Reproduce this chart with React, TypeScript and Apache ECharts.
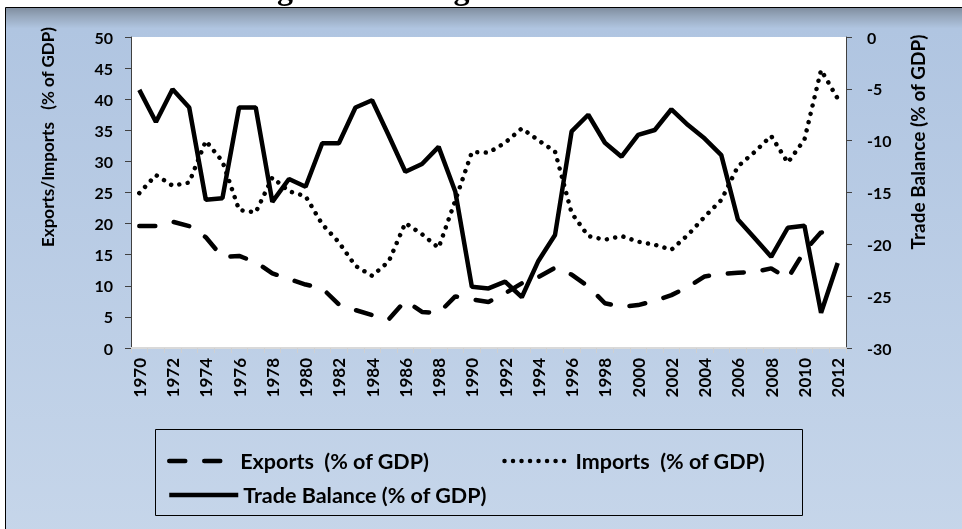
import React, { useEffect, useRef } from "react";
import * as echarts from "echarts";

const years = [
  "1970", "1971", "1972", "1973", "1974", "1975", "1976", "1977", "1978", "1979",
  "1980", "1981", "1982", "1983", "1984", "1985", "1986", "1987", "1988", "1989",
  "1990", "1991", "1992", "1993", "1994", "1995", "1996", "1997", "1998", "1999",
  "2000", "2001", "2002", "2003", "2004", "2005", "2006", "2007", "2008", "2009",
  "2010", "2011", "2012",
];

const exportsPct = [
  19.6, 19.6, 20.3, 19.6, 17.8, 14.6, 14.8, 13.8, 12.0, 11.1,
  10.2, 9.6, 7.0, 6.1, 5.3, 4.6, 7.6, 5.8, 5.6, 8.3,
  7.8, 7.4, 8.8, 10.4, 11.4, 12.9, 11.8, 9.9, 7.2, 6.6,
  6.9, 7.6, 8.5, 9.8, 11.5, 11.9, 12.1, 12.2, 12.8, 11.2,
  15.6, 18.6, 17.9,
];

const importsPct = [
  24.9, 27.8, 26.1, 26.6, 33.3, 30.0, 22.2, 21.8, 27.4, 25.2,
  24.4, 19.9, 17.0, 13.2, 11.6, 13.9, 20.1, 18.3, 16.1, 23.7,
  31.5, 31.4, 33.0, 35.3, 33.4, 31.6, 21.7, 18.0, 17.4, 18.0,
  17.1, 16.6, 15.8, 18.2, 21.1, 23.8, 29.2, 31.5, 34.1, 29.8,
  33.5, 44.7, 40.1,
];

const tradeBalance = [
  -5.1, -8.2, -5.05, -6.8, -15.7, -15.55, -6.8, -6.8, -15.9, -13.7,
  -14.45, -10.25, -10.25, -6.8, -6.1, -9.5, -13.0, -12.25, -10.6, -14.9,
  -24.1, -24.25, -23.6, -25.1, -21.6, -19.1, -9.1, -7.5, -10.2, -11.55,
  -9.45, -8.97, -6.97, -8.5, -9.8, -11.4, -17.6, -19.4, -21.2, -18.4,
  -18.2, -26.6, -21.8,
];

const titleText = "Figure 1: Foreign Trade Performance";
const leftAxisName = "Exports/Imports\u00a0\u00a0 (% of GDP)";
const rightAxisName = "Trade Balance (% of GDP)";
const exportsName = "Exports\u00a0 (% of GDP)";
const importsName = "Imports\u00a0 (% of GDP)";
const balanceName = "Trade Balance (% of GDP)";

const FONT = "Lato";

export default function App() {
  const ref = useRef<HTMLDivElement>(null);

  useEffect(() => {
    if (!ref.current) return;
    const chart = echarts.init(ref.current, null, { renderer: "svg" });

    const labelStyle = {
      color: "#000",
      fontFamily: FONT,
      fontWeight: "bold" as const,
      fontSize: 16,
    };
    const legendText = { ...labelStyle, fontSize: 21.5 };

    const option: any = {
      animation: false,
      graphic: [
        {
          type: "rect",
          z: -100,
          shape: { x: 5.5, y: 7.5, width: 1000, height: 600 },
          style: {
            fill: new echarts.graphic.LinearGradient(0, 0, 0, 1, [
              { offset: 0, color: "#7f8d9f" },
              { offset: 0.015, color: "#97a8bd" },
              { offset: 0.035, color: "#b0c5e1" },
              { offset: 1, color: "#c9d8eb" },
            ]),
            stroke: "#000",
            lineWidth: 1,
          },
        },
        {
          type: "text",
          z: 10,
          style: {
            text: titleText,
            x: 505,
            y: -12,
            align: "center",
            verticalAlign: "middle",
            fontFamily: "Liberation Serif",
            fontWeight: "bold",
            fontSize: 32,
            fill: "#000",
          },
        },
        {
          type: "text",
          z: 10,
          x: 47,
          y: 137,
          rotation: Math.PI / 2,
          style: {
            text: leftAxisName,
            x: 0,
            y: 0,
            align: "center",
            verticalAlign: "middle",
            fontFamily: FONT,
            fontWeight: "bold",
            fontSize: 17,
            fill: "#000",
          },
        },
        {
          type: "text",
          z: 10,
          x: 917,
          y: 142,
          rotation: Math.PI / 2,
          style: {
            text: rightAxisName,
            x: 0,
            y: 0,
            align: "center",
            verticalAlign: "middle",
            fontFamily: FONT,
            fontWeight: "bold",
            fontSize: 19,
            fill: "#000",
          },
        },
        {
          type: "rect",
          z: 5,
          shape: { x: 155.5, y: 429.5, width: 647, height: 86 },
          style: { fill: "rgba(0,0,0,0)", stroke: "#000", lineWidth: 1 },
        },
      ],
      grid: {
        left: 131,
        right: 116,
        top: 37,
        bottom: 181,
        show: true,
        backgroundColor: "#ffffff",
        borderWidth: 0,
      },
      legend: [
        {
          data: [exportsName, importsName],
          left: 162,
          top: 445,
          itemWidth: 66,
          itemHeight: 14,
          itemGap: 73,
          textStyle: legendText,
          itemStyle: { opacity: 0 },
          lineStyle: { width: 4.5 },
        },
        {
          data: [balanceName],
          left: 162,
          top: 479,
          itemWidth: 69,
          itemHeight: 14,
          textStyle: legendText,
          itemStyle: { opacity: 0 },
          lineStyle: { width: 4.5 },
        },
      ],
      xAxis: {
        type: "category",
        data: years,
        boundaryGap: true,
        axisLine: { show: true, lineStyle: { color: "#d9d9d9", width: 2 } },
        axisTick: {
          show: true,
          interval: 0,
          length: 5,
          lineStyle: { color: "#d0d0d0", width: 1 },
        },
        axisLabel: {
          ...labelStyle,
          fontSize: 17,
          interval: 1,
          rotate: 90,
          margin: 10,
        },
        splitLine: { show: false },
      },
      yAxis: [
        {
          type: "value",
          min: 0,
          max: 50,
          interval: 5,
          position: "left",
          axisLine: { show: true, lineStyle: { color: "#404040", width: 1 } },
          axisTick: { show: true, inside: false, length: 6, lineStyle: { color: "#404040" } },
          axisLabel: { ...labelStyle, margin: 18 },
          splitLine: { show: false },
        },
        {
          type: "value",
          min: -30,
          max: 0,
          interval: 5,
          position: "right",
          axisLine: { show: true, lineStyle: { color: "#404040", width: 1 } },
          axisTick: { show: true, inside: false, length: 6, lineStyle: { color: "#404040" } },
          axisLabel: { ...labelStyle, margin: 21 },
          splitLine: { show: false },
        },
      ],
      series: [
        {
          name: exportsName,
          type: "line",
          yAxisIndex: 0,
          data: exportsPct,
          symbol: "none",
          itemStyle: { color: "#000" },
          lineStyle: { color: "#000", width: 4.5, type: [16, 19], cap: "round" },
          z: 3,
        },
        {
          name: importsName,
          type: "line",
          yAxisIndex: 0,
          data: importsPct,
          symbol: "none",
          itemStyle: { color: "#000" },
          lineStyle: { color: "#000", width: 4.5, type: [0.01, 8.5], cap: "round" },
          z: 3,
        },
        {
          name: balanceName,
          type: "line",
          yAxisIndex: 1,
          data: tradeBalance,
          symbol: "none",
          itemStyle: { color: "#000" },
          lineStyle: { color: "#000", width: 4.5 },
          z: 4,
        },
      ],
    };

    chart.setOption(option);
    return () => chart.dispose();
  }, []);

  return (
    <div
      ref={ref}
      style={{ position: "fixed", left: 0, top: 0, width: 962, height: 529 }}
    />
  );
}
